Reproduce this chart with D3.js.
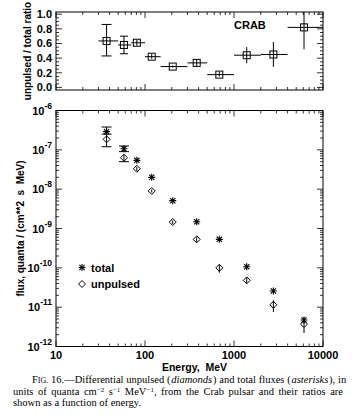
<!DOCTYPE html>
<html>
  <head>
    <meta charset="utf-8">
    <title>Crab pulsar unpulsed and total fluxes</title>
    <script src="https://cdn.jsdelivr.net/npm/d3@7"></script>
    <style>
      body { margin: 0; background: #fff; }
      svg { display: block; }
      text { white-space: pre; }
      .sans { font-family: "Liberation Sans", Arial, sans-serif; }
      .serif { font-family: "Liberation Serif", "Times New Roman", serif; }
    </style>
  </head>
  <body>
    <svg id="chart" width="352" height="418"></svg>
    <script>
      // energy bins (MeV)
      energy = [37, 58, 81, 119, 205, 381, 684, 1390, 2770, 6120];
      binLow = [30, 50, 70, 100, 150, 300, 500, 1000, 2000, 4000];
      binHigh = [50, 70, 100, 150, 300, 500, 1000, 2000, 4000, 10000];
      // unpulsed / total ratio
      ratio = [0.635, 0.58, 0.61, 0.42, 0.285, 0.335, 0.175, 0.44, 0.45, 0.82];
      ratioLow = [0.43, 0.46, 0.57, 0.39, 0.27, 0.29, 0.15, 0.33, 0.28, 0.52];
      ratioHigh = [0.86, 0.70, 0.65, 0.46, 0.30, 0.38, 0.21, 0.55, 0.62, 1.10];
      // total flux (asterisks)
      total = [2.9e-7, 1.07e-7, 5.4e-8, 2.0e-8, 5.1e-9, 1.49e-9, 5.3e-10, 1.07e-10, 2.57e-11, 4.7e-12];
      totalLow = [2.5e-7, 0.9e-7, 4.9e-8, 1.85e-8, 4.7e-9, 1.35e-9, 4.8e-10, 0.95e-10, 2.3e-11, 4.0e-12];
      totalHigh = [3.8e-7, 1.25e-7, 6.0e-8, 2.15e-8, 5.5e-9, 1.65e-9, 5.8e-10, 1.2e-10, 2.9e-11, 5.5e-12];
      // unpulsed flux (diamonds)
      unpulsed = [1.85e-7, 6.3e-8, 3.3e-8, 9.0e-9, 1.46e-9, 5.3e-10, 1.0e-10, 4.8e-11, 1.15e-11, 3.7e-12];
      unpulsedLow = [1.2e-7, 5.0e-8, 2.9e-8, 8.2e-9, 1.3e-9, 4.5e-10, 0.75e-10, 4.0e-11, 0.75e-11, 2.2e-12];
      unpulsedHigh = [2.5e-7, 7.5e-8, 3.7e-8, 9.8e-9, 1.6e-9, 6.0e-10, 1.2e-10, 5.6e-11, 1.5e-11, 4.6e-12];
      // tick labels
      energyTicks = [10, 100, 1000, 10000];
      energyLabels = ["10", "100", "1000", "10000"];
      ratioTicks = [0, 0.2, 0.4, 0.6, 0.8, 1.0];
      ratioLabels = ["0.0", "0.2", "0.4", "0.6", "0.8", "1.0"];
      fluxTicks = [1e-12, 1e-11, 1e-10, 1e-9, 1e-8, 1e-7, 1e-6];
      fluxExponents = ["-12", "-11", "-10", "-9", "-8", "-7", "-6"];

      chart = d3.select("#chart");
      left = 56; right = 323;
      top1 = 12; bottom1 = 90;
      top2 = 110.5; bottom2 = 346.5;

      // scales
      x = d3.scaleLog().domain([10, 10000]).range([left, right]);
      yRatio = d3.scaleLinear().domain([-0.035, 1.03]).range([bottom1, top1]);
      yFlux = d3.scaleLog().domain([1e-12, 1e-6]).range([bottom2, top2]);

      defs = chart.append("defs");
      defs.append("clipPath").attr("id", "clipTop").append("rect")
        .attr("x", left).attr("y", top1).attr("width", right - left).attr("height", bottom1 - top1);
      defs.append("clipPath").attr("id", "clipBottom").append("rect")
        .attr("x", left).attr("y", top2).attr("width", right - left).attr("height", bottom2 - top2);

      function line(g, x1, y1, x2, y2, w) {
        g.append("line").attr("x1", x1).attr("y1", y1).attr("x2", x2).attr("y2", y2)
          .attr("stroke", "#000").attr("stroke-width", w || 1);
      }

      // frames and ticks
      axes = chart.append("g");
      [[top1, bottom1], [top2, bottom2]].forEach(function(p) {
        axes.append("rect").attr("x", left).attr("y", p[0])
          .attr("width", right - left).attr("height", p[1] - p[0])
          .attr("fill", "none").attr("stroke", "#000").attr("stroke-width", 1);
        x.ticks().forEach(function(v) {
          let major = Math.abs(Math.log10(v) - Math.round(Math.log10(v))) < 1e-9;
          let len = major ? 6 : 3;
          line(axes, x(v), p[1], x(v), p[1] - len, 0.8);
          line(axes, x(v), p[0], x(v), p[0] + len, 0.8);
        });
      });
      d3.range(0, 1.001, 0.05).forEach(function(v) {
        let major = Math.abs(v * 5 - Math.round(v * 5)) < 1e-9;
        let len = major ? 6 : 3;
        line(axes, left, yRatio(v), left + len, yRatio(v), 0.8);
        line(axes, right, yRatio(v), right - len, yRatio(v), 0.8);
      });
      yFlux.ticks().forEach(function(v) {
        let major = Math.abs(Math.log10(v) - Math.round(Math.log10(v))) < 1e-9;
        let len = major ? 6 : 3;
        line(axes, left, yFlux(v), left + len, yFlux(v), 0.8);
        line(axes, right, yFlux(v), right - len, yFlux(v), 0.8);
      });

      // tick labels
      labels = chart.append("g").attr("class", "sans").attr("font-weight", "bold").attr("fill", "#000");
      ratioTicks.forEach(function(v, i) {
        labels.append("text").attr("x", 52).attr("y", yRatio(v) + 4)
          .attr("text-anchor", "end").attr("font-size", 11).text(ratioLabels[i]);
      });
      fluxTicks.forEach(function(v, i) {
        let t = labels.append("text").attr("x", 52).attr("y", yFlux(v) + 4)
          .attr("text-anchor", "end").attr("font-size", 11);
        t.append("tspan").text("10");
        t.append("tspan").attr("dy", -6).attr("font-size", 8.5).text(fluxExponents[i]);
      });
      energyTicks.forEach(function(v, i) {
        labels.append("text").attr("x", x(v)).attr("y", 359)
          .attr("text-anchor", "middle").attr("font-size", 11).text(energyLabels[i]);
      });

      // axis titles
      chart.append("text").attr("class", "sans").attr("font-size", 10.5).attr("font-weight", "bold")
        .attr("text-anchor", "middle").attr("x", (left + right) / 2 + 5).attr("y", 371)
        .text("Energy,  MeV");
      chart.append("text").attr("class", "sans").attr("font-size", 10).attr("font-weight", "bold")
        .attr("text-anchor", "middle").attr("transform", "translate(31," + ((top1 + bottom1) / 2) + ") rotate(-90)")
        .text("unpulsed / total ratio");
      chart.append("text").attr("class", "sans").attr("font-size", 10).attr("font-weight", "bold")
        .attr("text-anchor", "middle").attr("transform", "translate(24," + ((top2 + bottom2) / 2) + ") rotate(-90)")
        .text("flux, quanta / (cm**2  s  MeV)");
      chart.append("text").attr("class", "sans").attr("font-size", 11).attr("font-weight", "bold")
        .attr("x", 234).attr("y", 29).text("CRAB");

      // ratio panel
      ratioGroup = chart.append("g").attr("clip-path", "url(#clipTop)");
      energy.forEach(function(e, i) {
        let cx = x(e), cy = yRatio(ratio[i]);
        line(ratioGroup, x(binLow[i]), cy, x(binHigh[i]), cy);
        line(ratioGroup, cx, yRatio(ratioLow[i]), cx, yRatio(ratioHigh[i]));
        if (i < 2) {
          let cap = i == 0 ? 5 : 4;
          line(ratioGroup, cx - cap, yRatio(ratioLow[i]), cx + cap, yRatio(ratioLow[i]));
          line(ratioGroup, cx - cap, yRatio(ratioHigh[i]), cx + cap, yRatio(ratioHigh[i]));
        }
        ratioGroup.append("rect").attr("x", cx - 3.5).attr("y", cy - 3.5).attr("width", 7).attr("height", 7)
          .attr("fill", "none").attr("stroke", "#000").attr("stroke-width", 1);
      });

      // flux panel
      function drawAsterisk(g, cx, cy) {
        let r = 3.5, d = 2.6;
        line(g, cx - r, cy, cx + r, cy, 1.1);
        line(g, cx, cy - r, cx, cy + r, 1.1);
        line(g, cx - d, cy - d, cx + d, cy + d, 1.1);
        line(g, cx - d, cy + d, cx + d, cy - d, 1.1);
      }
      function drawDiamond(g, cx, cy) {
        let r = 3.5;
        g.append("path").attr("d", "M" + cx + "," + (cy - r) + "L" + (cx + r) + "," + cy +
          "L" + cx + "," + (cy + r) + "L" + (cx - r) + "," + cy + "Z")
          .attr("fill", "none").attr("stroke", "#000").attr("stroke-width", 1);
      }
      fluxGroup = chart.append("g").attr("clip-path", "url(#clipBottom)");
      energy.forEach(function(e, i) {
        let cx = x(e);
        line(fluxGroup, cx, yFlux(totalLow[i]), cx, yFlux(totalHigh[i]));
        line(fluxGroup, cx, yFlux(unpulsedLow[i]), cx, yFlux(unpulsedHigh[i]));
        if (i < 2) {
          let cap = 5;
          [totalHigh[i], unpulsedLow[i], totalLow[i]].forEach(function(v) {
            line(fluxGroup, cx - cap, yFlux(v), cx + cap, yFlux(v));
          });
        }
        drawAsterisk(fluxGroup, cx, yFlux(total[i]));
        drawDiamond(fluxGroup, cx, yFlux(unpulsed[i]));
      });

      // legend
      legend = chart.append("g").attr("class", "sans").attr("font-size", 11).attr("font-weight", "bold");
      drawAsterisk(legend, 82, 267.5);
      legend.append("text").attr("x", 91).attr("y", 271.5).text("total");
      drawDiamond(legend, 82, 284);
      legend.append("text").attr("x", 91).attr("y", 288).text("unpulsed");

      // caption, justified by widening the word gaps
      function justify(t, width) {
        let node = t.node();
        let gaps = (node.textContent.match(/ /g) || []).length;
        let extra = width - node.getComputedTextLength();
        if (gaps > 0 && extra > 0) t.attr("word-spacing", extra / gaps);
      }
      caption = chart.append("g").attr("class", "serif").attr("font-size", 10.5).attr("fill", "#000");
      c1 = caption.append("text").attr("x", 32).attr("y", 382.5);
      c1.append("tspan").text("F");
      c1.append("tspan").attr("font-size", 8).text("IG.");
      c1.append("tspan").text(" 16.\u2014Differential unpulsed (");
      c1.append("tspan").attr("dx", 0.8).attr("font-style", "italic").text("diamonds");
      c1.append("tspan").attr("dx", 0.8).text(") and total fluxes (");
      c1.append("tspan").attr("dx", 0.8).attr("font-style", "italic").text("asterisks");
      c1.append("tspan").attr("dx", 0.8).text("), in");
      justify(c1, 311);
      c2 = caption.append("text").attr("x", 13).attr("y", 395);
      c2.append("tspan").text("units of quanta cm");
      c2.append("tspan").attr("dy", -3.5).attr("font-size", 7).text("\u22122");
      c2.append("tspan").attr("dy", 3.5).text(" s");
      c2.append("tspan").attr("dy", -3.5).attr("font-size", 7).text("\u22121");
      c2.append("tspan").attr("dy", 3.5).text(" MeV");
      c2.append("tspan").attr("dy", -3.5).attr("font-size", 7).text("\u22121");
      c2.append("tspan").attr("dy", 3.5).text(", from the Crab pulsar and their ratios are");
      justify(c2, 330);
      caption.append("text").attr("x", 13).attr("y", 406).text("shown as a function of energy.");
    </script>
  </body>
</html>
